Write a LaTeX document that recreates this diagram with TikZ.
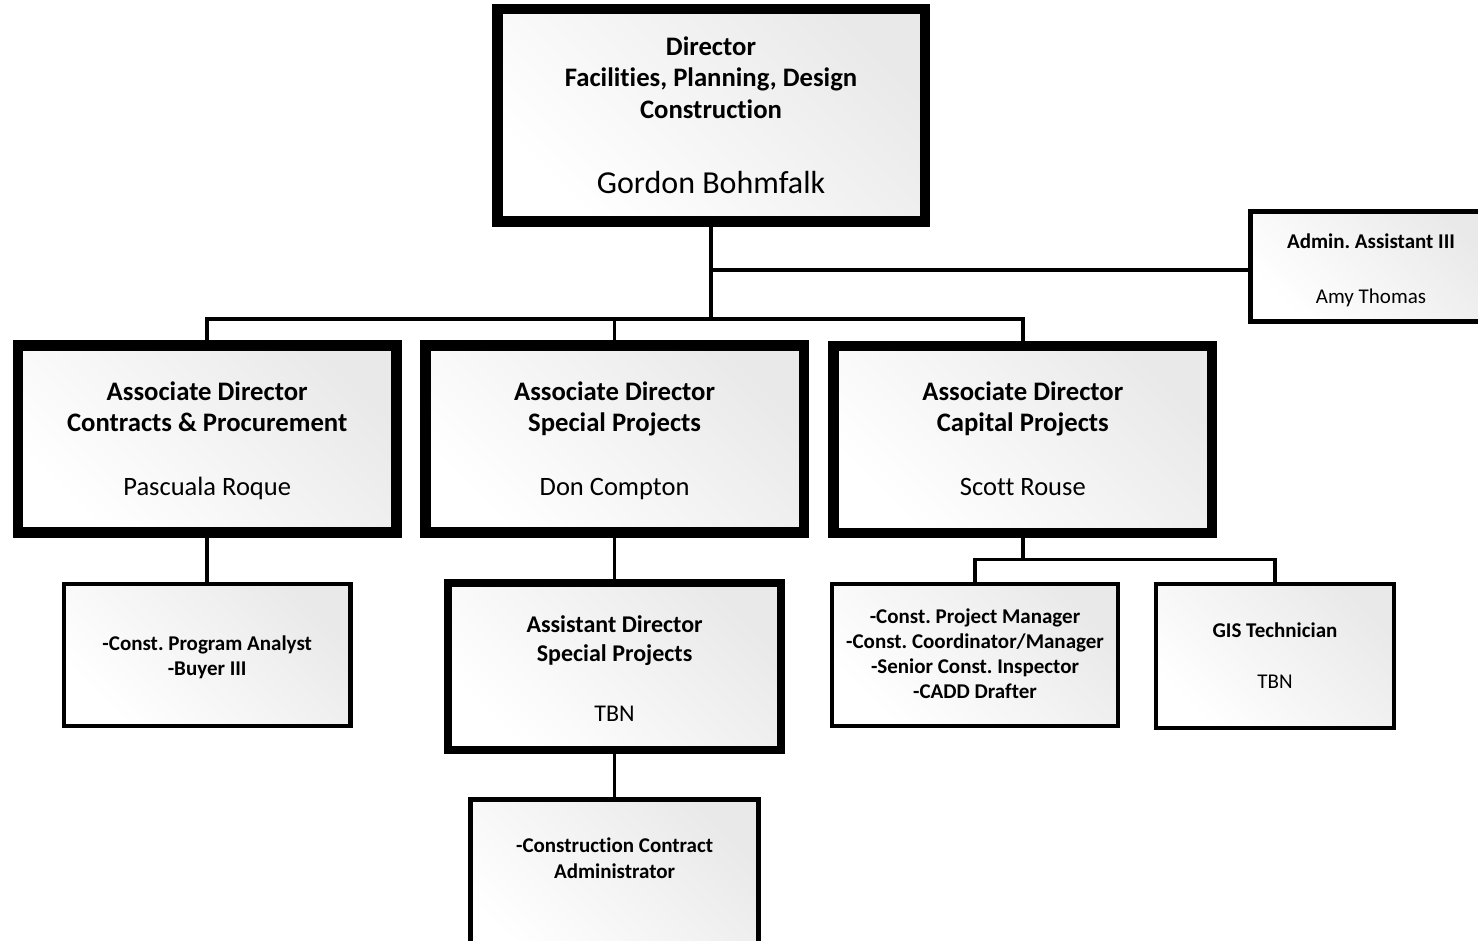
\documentclass[tikz,border=0pt]{standalone}
\usepackage{fontspec}
\setmainfont{Carlito}[Ligatures=NoCommon]
\begin{document}
\frenchspacing
\begin{tikzpicture}[x=1pt,y=-1pt,
  box/.style={draw, rectangle, inner sep=0pt, top color=gray!17, bottom color=white, shading angle=-45},
  bigbox/.style={box, line width=10.5pt, minimum width=378.5pt, minimum height=187pt},
  smallbox/.style={box, line width=4.3pt},
  conn/.style={line width=3.5pt},
  txt/.style={align=center, inner sep=0pt},
  t26/.style={txt, font=\bfseries\fontsize{26.7}{31.5}\selectfont},
  t24/.style={txt, font=\bfseries\fontsize{24}{28.5}\selectfont},
  t21/.style={txt, font=\bfseries\fontsize{21}{25}\selectfont},
  n32/.style={txt, font=\fontsize{32}{38}\selectfont},
  n26/.style={txt, font=\fontsize{26.5}{32}\selectfont},
  n24/.style={txt, font=\fontsize{24}{29}\selectfont},
  n21/.style={txt, font=\fontsize{21}{25}\selectfont}]
\useasboundingbox (0,0) rectangle (1478,941);
\clip (0,0) rectangle (1478,941);

% boxes
\node[box, line width=10.5pt, minimum width=427.5pt, minimum height=212.5pt] (dir) at (711,115.5) {};
\node[smallbox, minimum width=241pt, minimum height=110pt] (adm) at (1371,266.5) {};
\node[bigbox] (adc) at (207.2,439) {};
\node[bigbox] (ads) at (614.6,439) {};
\node[bigbox] (adp) at (1022.8,439.5) {};
\node[smallbox, minimum width=286.6pt, minimum height=142.2pt] (prog) at (207.2,655) {};
\node[box, line width=8pt, minimum width=333.7pt, minimum height=166.7pt] (asst) at (614.6,666.7) {};
\node[smallbox, minimum width=288pt, minimum height=170pt, anchor=north] (cca) at (614.6,797.3) {};
\node[smallbox, minimum width=286.6pt, minimum height=142.2pt] (list) at (975,655) {};
\node[smallbox, minimum width=238pt, minimum height=144pt] (gis) at (1275,656) {};

% texts
\node[t26, font=\bfseries\fontsize{26.7}{31.7}\selectfont] (dirT) at (711,80.6) {\strut Director\\Facilities, Planning, Design\\Construction\strut};
\node[n32] (dirN) at (711,185.9) {\strut Gordon Bohmfalk};

\node[t21] (admT) at (1371,243.4) {\strut Admin. Assistant III};
\node[n21] (admN) at (1371,298.4) {\strut Amy Thomas};

\node[t26, font=\bfseries\fontsize{26.7}{31}\selectfont] (adcT) at (207.2,409.5) {\strut Associate Director\\Contracts \& Procurement\strut};
\node[n26] (adcN) at (207.2,489.4) {\strut Pascuala Roque};
\node[t26, font=\bfseries\fontsize{26.7}{31}\selectfont] (adsT) at (614.6,409.5) {\strut Associate Director\\Special Projects\strut};
\node[n26] (adsN) at (614.6,489.4) {\strut Don Compton};
\node[t26, font=\bfseries\fontsize{26.7}{31}\selectfont] (adpT) at (1022.8,409.5) {\strut Associate Director\\Capital Projects\strut};
\node[n26] (adpN) at (1022.8,489.4) {\strut Scott Rouse};

\node[t21] (progT) at (207.2,657.5) {\strut -Const. Program Analyst\\-Buyer III\strut};

\node[t24] (asstT) at (614.6,641.2) {\strut Assistant Director\\Special Projects\strut};
\node[n24] (asstN) at (614.6,715.2) {\strut TBN};

\node[txt, font=\bfseries\fontsize{21}{25.7}\selectfont] (ccaT) at (614.6,860.4) {\strut -Construction Contract\\Administrator\strut};

\node[t21] (listT) at (975,656.2) {\strut -Const. Project Manager\\-Const. Coordinator/Manager\\-Senior Const. Inspector\\-CADD Drafter\strut};

\node[t21] (gisT) at (1275,632.7) {\strut GIS Technician};
\node[n21] (gisN) at (1275,683.7) {\strut TBN};

% connectors
\coordinate (tree) at (711,319);
\coordinate (admj) at (711,270);
\coordinate (capj) at (1022.8,559.5);
\draw[conn] (dir.south) -- (tree);
\draw[conn] (admj) -- (admj -| adm.west);
\draw[conn] (adc.north) |- (tree) -| (adp.north);
\draw[conn] (ads.north) -- (ads.north |- tree);
\draw[conn] (adc.south) -- (prog.north);
\draw[conn] (ads.south) -- (asst.north);
\draw[conn] (asst.south) -- (cca.north);
\draw[conn] (adp.south) -- (capj);
\draw[conn] (list.north) |- (capj) -| (gis.north);
\end{tikzpicture}
\end{document}
